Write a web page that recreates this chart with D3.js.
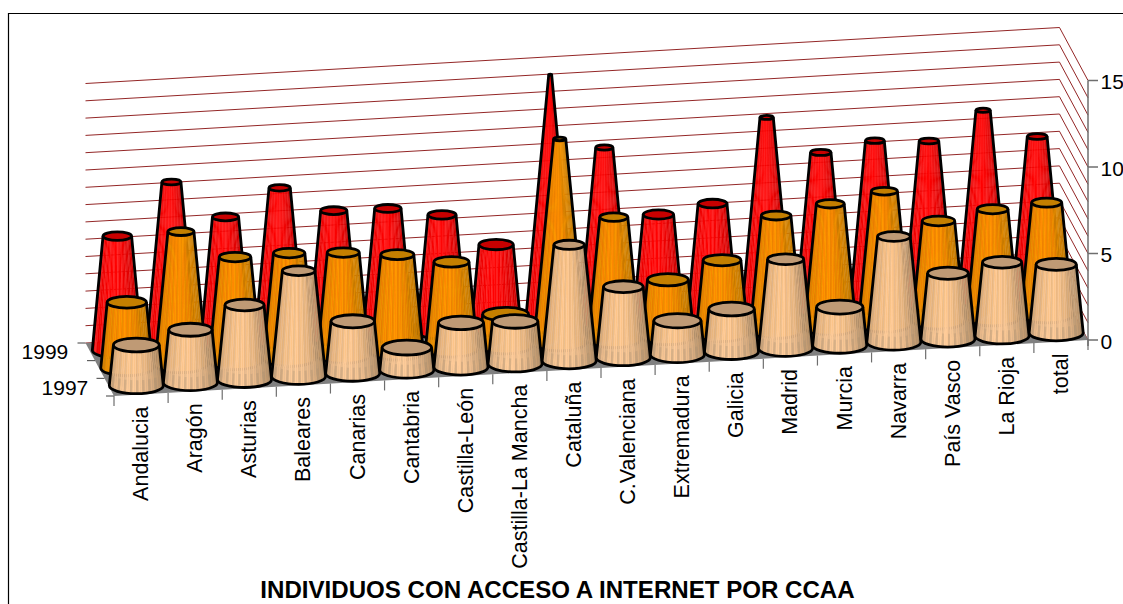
<!DOCTYPE html>
<html lang="es">
<head>
<meta charset="utf-8">
<title>Individuos con acceso a Internet por CCAA</title>
<script src="https://cdn.jsdelivr.net/npm/d3@7"></script>
<style>
  html, body { margin: 0; padding: 0; background: #fff; overflow: hidden; }
  svg { display: block; font-family: "Liberation Sans", Arial, sans-serif; }
</style>
</head>
<body>
<svg id="chart" width="1123" height="604"></svg>
<script>
// Percentage of individuals with Internet access, by autonomous community
const categories = ["Andalucia", "Aragón", "Asturias", "Baleares", "Canarias", "Cantabria",
  "Castilla-León", "Castilla-La Mancha", "Cataluña", "C.Valenciana", "Extremadura", "Galicia",
  "Madrid", "Murcia", "Navarra", "País Vasco", "La Rioja", "total"];
const years = ["1997", "1998", "1999"];
const values1997 = [2.35, 3.05, 4.3, 6.1, 3.0, 1.3, 2.55, 2.45, 6.7, 4.1, 1.95, 2.45, 5.15, 2.2, 6.1, 3.8, 4.25, 3.95];
const values1998 = [3.8, 7.7, 6.05, 6.1, 5.95, 5.65, 5.05, 1.85, 11.8, 7.1, 3.3, 4.25, 6.65, 7.15, 7.7, 5.8, 6.3, 6.5];
const values1999 = [6.6, 9.55, 7.35, 8.85, 7.35, 7.3, 6.75, 4.85, 14.5, 10.1, 6.05, 6.5, 11.3, 9.1, 9.6, 9.4, 11.0, 9.3];
const yTicks = [0, 5, 10, 15];
const chartTitle = "INDIVIDUOS CON ACCESO A INTERNET POR CCAA";

const seriesByYear = [values1997, values1998, values1999];
const palette = [
  { light: "#ffcc99", dark: "#ad8a64", top: "#bf9a75", stripe: "#a08a6c", mix: 0.2, foot: 0.28 },
  { light: "#ff9900", dark: "#b87400", top: "#c47f00", stripe: "#c87800", mix: 0.35, foot: 0.35 },
  { light: "#ff0000", dark: "#c40000", top: "#c80000", stripe: "#ff4a4a", mix: 0.35, foot: 0.3 }
];

const svg = d3.select("#chart");

// Oblique projection: category runs along the front edge, depth runs towards the back wall
const frontLeft = [114, 396];
const frontRight = [1088, 340];
const backLeft = [85.5, 343];
const unit = 17.3;

const catPos = d3.scaleBand().domain(categories).range([0, 1]);
const depthPos = d3.scaleBand().domain(years).range([0, 1]);
const heightPx = d3.scaleLinear().domain([0, 15]).range([0, 15 * unit]);

const dx = frontRight[0] - frontLeft[0], dy = frontRight[1] - frontLeft[1];
const bx = backLeft[0] - frontLeft[0], by = backLeft[1] - frontLeft[1];

function project(c, d, v) {
  return [frontLeft[0] + c * dx + d * bx, frontLeft[1] + c * dy + d * by - heightPx(v)];
}

// Back and side walls: dark red rule at every unit
const gridValues = d3.range(0, 16);
const walls = svg.append("g").attr("fill", "none").attr("stroke", "#800000").attr("stroke-width", 1);
walls.selectAll("path").data(gridValues).join("path")
  .attr("d", v => d3.line()([project(0, 1, v), project(1, 1, v), project(1, 0, v)]))
  .attr("stroke-opacity", 0.85);

// Floor
svg.append("path")
  .attr("d", d3.line()([project(0, 1, 0), project(1, 1, 0), project(1, 0, 0), project(0, 0, 0)]) + "Z")
  .attr("fill", "#808080");

// Value axis on the right-hand front edge
const axis = svg.append("g").attr("stroke", "#6e6e6e").attr("stroke-width", 1.5);
axis.append("line")
  .attr("x1", frontRight[0]).attr("x2", frontRight[0])
  .attr("y1", project(1, 0, 15)[1]).attr("y2", project(1, 0, 0)[1] + 6);
axis.selectAll("line.tick").data(yTicks).join("line").attr("class", "tick")
  .attr("x1", frontRight[0]).attr("x2", frontRight[0] + 10)
  .attr("y1", v => project(1, 0, v)[1]).attr("y2", v => project(1, 0, v)[1]);
svg.append("g").selectAll("text").data(yTicks).join("text")
  .attr("x", frontRight[0] + 12.5)
  .attr("y", v => project(1, 0, v)[1] + 8.5)
  .attr("font-size", 21).text(d => d);

// Depth axis ticks and year labels on the left floor edge
const depthTicks = d3.range(0, 4).map(k => k / 3);
svg.append("g").attr("stroke", "#404040").attr("stroke-width", 1)
  .selectAll("line").data(depthTicks).join("line")
  .attr("x1", d => project(0, d, 0)[0]).attr("x2", d => project(0, d, 0)[0] - 8)
  .attr("y1", d => project(0, d, 0)[1]).attr("y2", d => project(0, d, 0)[1]);
const yearLabels = [{ y: "1999", d: depthPos("1999") + depthPos.bandwidth() / 2, nudge: -22 },
                    { y: "1997", d: depthPos("1997") + depthPos.bandwidth() / 2, nudge: -21 }];
svg.append("g").selectAll("text").data(yearLabels).join("text")
  .attr("x", d => project(0, d.d, 0)[0] + d.nudge)
  .attr("y", d => project(0, d.d, 0)[1] + 7.5)
  .attr("text-anchor", "end").attr("font-size", 21).text(d => d.y);

// Category ticks and rotated labels along the front edge
const catTicks = d3.range(0, categories.length + 1).map(k => k / categories.length);
svg.append("g").attr("stroke", "#6e6e6e").attr("stroke-width", 1.2)
  .selectAll("line").data(catTicks).join("line")
  .attr("x1", c => project(c, 0, 0)[0]).attr("x2", c => project(c, 0, 0)[0])
  .attr("y1", c => project(c, 0, 0)[1]).attr("y2", c => project(c, 0, 0)[1] + 10);
svg.append("g").selectAll("text").data(categories).join("text")
  .attr("transform", c => {
    const p = project(catPos(c) + catPos.bandwidth() / 2, 0, 0);
    return `translate(${p[0] + 7},${p[1] + 12}) rotate(-90)`;
  })
  .attr("text-anchor", "end").attr("font-size", 21.5).attr("fill", "#000").text(c => c);

// Cones are truncated in proportion to their value; the tip sits just above the largest one
const tipValue = 15.4;
const flatten = 0.3;
const baseRadius = [27, 26, 25];
const stripes = 26;
const footBand = 13;

function drawCone(g, cIdx, rIdx, value) {
  const cat = categories[cIdx];
  const pal = palette[rIdx];
  const c = catPos(cat) + catPos.bandwidth() / 2;
  const d = depthPos(years[rIdx]) + depthPos.bandwidth() / 2;
  const [cx, yb] = project(c, d, 0);
  const yt = project(c, d, value)[1];
  const R = baseRadius[rIdx];
  const r = R * (1 - value / tipValue);
  const shade = d3.interpolateRgb(pal.light, pal.dark);
  const sy = u => Math.sqrt(Math.max(0, 1 - u * u));

  // Vertical facets across the visible half of the surface
  const facets = d3.range(stripes).map(k => {
    const u0 = -1 + 2 * k / stripes, u1 = -1 + 2 * (k + 1) / stripes;
    const um = (u0 + u1) / 2;
    const k2 = Math.pow(Math.abs(um + 0.15) / 1.15, 1.8);
    const base = shade(Math.min(1, k2 * (um > 0 ? 1 : 0.85)));
    const striped = k % 3 === 1;
    const col = striped ? d3.interpolateRgb(base, pal.stripe)(pal.mix) : base;
    return {
      col, striped, u0, u1,
      pts: [[cx + u0 * R, yb + sy(u0) * R * flatten], [cx + u1 * R, yb + sy(u1) * R * flatten],
            [cx + u1 * r, yt + sy(u1) * r * flatten], [cx + u0 * r, yt + sy(u0) * r * flatten]]
    };
  });
  g.append("g").selectAll("path").data(facets).join("path")
    .attr("d", f => d3.line()(f.pts) + "Z")
    .attr("fill", f => f.col).attr("stroke", f => f.col).attr("stroke-width", 0.4);

  // Stripes read a little stronger close to the foot of the cone
  const band = Math.min(footBand, yb - yt);
  const frac = band / Math.max(1, yb - yt);
  g.append("g").selectAll("path").data(facets.filter(f => f.striped)).join("path")
    .attr("d", f => {
      const ru0 = R + (r - R) * frac;
      return d3.line()([
        [cx + f.u0 * R, yb + sy(f.u0) * R * flatten], [cx + f.u1 * R, yb + sy(f.u1) * R * flatten],
        [cx + f.u1 * ru0, yb - band + sy(f.u1) * ru0 * flatten], [cx + f.u0 * ru0, yb - band + sy(f.u0) * ru0 * flatten]
      ]) + "Z";
    })
    .attr("fill", pal.stripe).attr("fill-opacity", pal.foot);

  // Outline: base curve, both sides, then the elliptical top
  g.append("path")
    .attr("d", `M${cx - r},${yt} L${cx - R},${yb} A${R},${R * flatten} 0 0 0 ${cx + R},${yb} L${cx + r},${yt}`)
    .attr("fill", "none").attr("stroke", "#000").attr("stroke-width", 2.8).attr("stroke-linejoin", "round");
  g.append("ellipse")
    .attr("cx", cx).attr("cy", yt).attr("rx", r).attr("ry", r * flatten)
    .attr("fill", pal.top).attr("stroke", "#000").attr("stroke-width", 2.8);
}

// Paint from the back row forwards, left to right within each row
const conesLayer = svg.append("g");
[2, 1, 0].forEach(rIdx => {
  seriesByYear[rIdx].forEach((v, cIdx) => drawCone(conesLayer.append("g"), cIdx, rIdx, v));
});

// Title
svg.append("text").attr("x", 557.5).attr("y", 598).attr("text-anchor", "middle")
  .attr("font-size", 24.1).attr("font-weight", "bold").text(chartTitle);

// Chart frame: only the left and top edges fall inside the page
svg.append("path").attr("d", "M8.5,604 V13.5 H1123")
  .attr("fill", "none").attr("stroke", "#000").attr("stroke-width", 1.2);
</script>
</body>
</html>
